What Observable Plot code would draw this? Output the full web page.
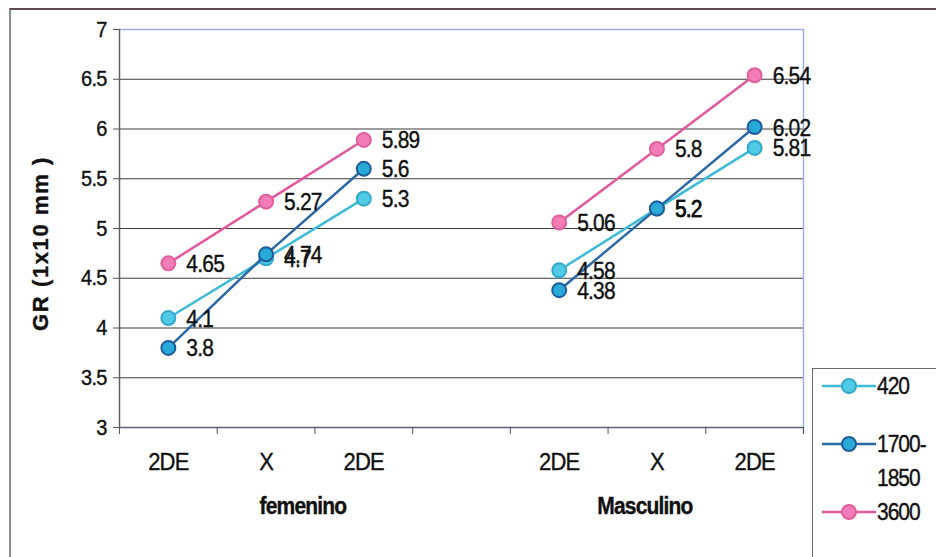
<!DOCTYPE html>
<html>
<head>
<meta charset="utf-8">
<script src="https://cdn.jsdelivr.net/npm/d3@7"></script>
<script src="https://cdn.jsdelivr.net/npm/@observablehq/plot@0.6"></script>
<style>
  html, body { margin: 0; padding: 0; background: #fff; }
  #wrap { position: relative; width: 936px; height: 557px; overflow: hidden;
          font-family: "Liberation Sans", Arial, sans-serif; }
  #frame { position: absolute; left: 9px; top: 8px; right: -10px; bottom: -10px;
           border-left: 2px solid #8a8a8a; border-top: 2px solid #5a4a4e; pointer-events: none; }
  #chart { position: absolute; left: 0; top: 0; }
  #legend { position: absolute; left: 812px; top: 368px; width: 140px; height: 200px;
            border-left: 1.5px solid #6a6a6a; border-top: 1.5px solid #6a6a6a; background: #fff; }
</style>
</head>
<body>
<div id="wrap">
  <div id="chart"></div>
  <div id="frame"></div>
  <div id="legend"></div>
</div>
<script>
// Category slots along the x axis; the empty slot separates the two groups
const categories = ["2DE", "X", "2DE", "", "2DE", "X", "2DE"];
const groups = ["femenino", "Masculino"];
const groupSpans = [[0, 4], [4, 7]];

// Series (legend keys) and their values per category slot
const seriesNames = ["420", "1700-1850", "3600"];
const values420 = [4.1, 4.7, 5.3, null, 4.58, 5.2, 5.81];
const values1700 = [3.8, 4.74, 5.6, null, 4.38, 5.2, 6.02];
const values3600 = [4.65, 5.27, 5.89, null, 5.06, 5.8, 6.54];

const yTicks = [3, 3.5, 4, 4.5, 5, 5.5, 6, 6.5, 7];
const yLabel = "GR (1x10 mm )";

const palette = {
  "420": { line: "#3dbbd8", fill: "#4fcbe6", stroke: "#34a8c8" },
  "1700-1850": { line: "#2c68a6", fill: "#29a9d8", stroke: "#1f5e9a" },
  "3600": { line: "#e3589c", fill: "#f27cb5", stroke: "#e0609e" }
};

const seriesValues = [values420, values1700, values3600];
const rows = [];
seriesNames.forEach((s, k) => {
  seriesValues[k].forEach((v, i) => {
    rows.push({ series: s, slot: i + 0.5, value: v });
  });
});
const present = rows.filter(d => d.value != null);

const marks = [
  Plot.gridY(yTicks, { stroke: "#3c3c3c", strokeOpacity: 1, strokeWidth: 1.2 }),
  Plot.ruleY([7], { stroke: "#9db0e0", strokeWidth: 1.5 }),
  Plot.ruleX([7], { stroke: "#9db0e0", strokeWidth: 1.5, y1: 7, y2: 2.93 }),
  Plot.axisY({
    ticks: yTicks, tickFormat: d => String(d), tickSize: 6, tickPadding: 7,
    fontSize: 20, stroke: "#555", label: null
  }),
  Plot.ruleX([0], { stroke: "#5a6070", strokeWidth: 1.5 }),
  Plot.ruleY([3], { stroke: "#5a6070", strokeWidth: 1.5 }),
  Plot.axisX({ ticks: d3.range(categories.length + 1), tickFormat: () => "", tickSize: 7, stroke: "#555", label: null }),
  Plot.axisX({
    ticks: categories.map((c, i) => i + 0.5).filter((_, i) => categories[i] !== ""),
    tickFormat: d => categories[Math.floor(d)], tickSize: 0, tickPadding: 25,
    fontSize: 22, label: null
  }),
  Plot.text(groups, {
    x: (d, i) => (groupSpans[i][0] + groupSpans[i][1]) / 2,
    frameAnchor: "bottom", dy: 86, dx: -12,
    text: d => d, fontSize: 21, fontWeight: "bold", fill: "#111"
  })
];

seriesNames.forEach(s => {
  const c = palette[s];
  const data = rows.filter(d => d.series === s);
  marks.push(
    Plot.line(data, { x: "slot", y: "value", stroke: c.line, strokeWidth: 2.5 }),
    Plot.dot(data.filter(d => d.value != null), {
      x: "slot", y: "value", r: 7, fill: c.fill, stroke: c.stroke, strokeWidth: 2
    })
  );
});

marks.push(
  Plot.text(present, {
    x: "slot", y: "value", text: d => String(d.value), textAnchor: "start",
    dx: 18, dy: 1, fontSize: 21, fill: "#111"
  })
);

// Rotated y-axis title
marks.push(
  Plot.text([yLabel], {
    frameAnchor: "left", textAnchor: "middle", dx: -79, dy: 15, rotate: -90,
    text: d => d, fontSize: 22, fontWeight: "bold", fill: "#111"
  })
);

const chart = Plot.plot({
  width: 936,
  height: 557,
  marginLeft: 119,
  marginRight: 133,
  marginTop: 29,
  marginBottom: 130,
  x: { type: "linear", domain: [0, categories.length] },
  y: { domain: [3, 7] },
  style: { fontFamily: "'Liberation Sans', Arial, sans-serif", background: "transparent", color: "#111" },
  marks
});

// Tall, slightly heavy lettering for horizontal text; the rotated title is spaced out instead
d3.select(chart).selectAll("text").each(function () {
  const t = d3.select(this);
  const tr = t.attr("transform") || "";
  t.style("stroke", "#111").style("stroke-width", "0.35px");
  if (tr.includes("rotate")) {
    t.style("letter-spacing", "1.6px");
  } else {
    t.style("letter-spacing", "-0.8px");
    t.attr("transform", tr + " scale(1,1.12)");
  }
});
document.getElementById("chart").appendChild(chart);

// Legend: line-with-marker swatch per series
const legendRows = [
  { name: "420", lines: ["420"], y: 17 },
  { name: "1700-1850", lines: ["1700-", "1850"], y: 75 },
  { name: "3600", lines: ["3600"], y: 143 }
];
const lsvg = d3.select("#legend").append("svg").attr("width", 140).attr("height", 200)
  .style("font-family", "'Liberation Sans', Arial, sans-serif");
legendRows.forEach(r => {
  const c = palette[r.name];
  const g = lsvg.append("g").attr("transform", `translate(0,${r.y})`);
  g.append("line").attr("x1", 9).attr("x2", 63).attr("y1", 0).attr("y2", 0)
    .attr("stroke", c.line).attr("stroke-width", 2.5);
  g.append("circle").attr("cx", 36).attr("cy", 0).attr("r", 7)
    .attr("fill", c.fill).attr("stroke", c.stroke).attr("stroke-width", 2);
  r.lines.forEach((t, j) => {
    g.append("text").attr("x", 64).attr("y", j * 34).attr("dy", "0.35em")
      .attr("transform", `translate(64,${j * 34}) scale(1,1.12) translate(-64,${-j * 34})`)
      .attr("font-size", 21).attr("fill", "#111")
      .style("stroke", "#111").style("stroke-width", "0.35px")
      .style("letter-spacing", "-1px").text(t);
  });
});
</script>
</body>
</html>
